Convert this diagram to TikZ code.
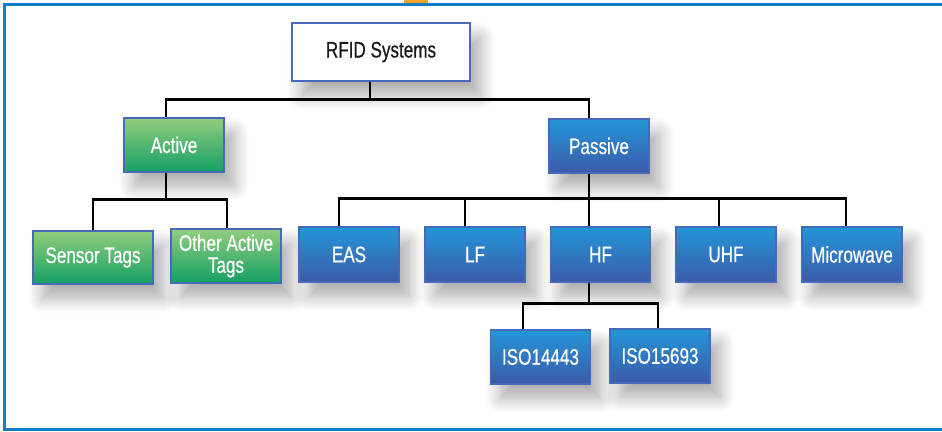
\documentclass[tikz,border=0pt]{standalone}
\usepackage{fontspec}
\setmainfont{Liberation Sans}[FakeStretch=0.76, FakeBold=0.6]
\usetikzlibrary{shadows.blur}

\definecolor{frameblue}{RGB}{20,125,195}
\definecolor{taborange}{RGB}{240,165,40}
\definecolor{boxedge}{RGB}{70,105,185}
\definecolor{greentop}{RGB}{145,205,125}
\definecolor{greenbot}{RGB}{20,160,100}
\definecolor{bluetop}{RGB}{35,150,215}
\definecolor{bluebot}{RGB}{60,90,170}
\definecolor{shadowgray}{RGB}{120,120,160}

\tikzset{
  box/.style={draw=boxedge, line width=1.4pt, minimum width=100pt, minimum height=54pt,
    inner sep=2pt, align=center, text=white, font=\fontsize{22.5}{22}\selectfont,
    blur shadow={shadow xshift=10pt, shadow yshift=-14pt, shadow blur radius=15pt,
      shadow blur steps=12, shadow opacity=34, fill=shadowgray}},
  greenbox/.style={box, top color=greentop, bottom color=greenbot},
  bluebox/.style={box, top color=bluetop, bottom color=bluebot},
  rootbox/.style={box, fill=white, text=black!90, minimum width=178pt, minimum height=58pt},
  link/.style={draw=black, line width=2.6pt, line join=miter}
}

\begin{document}
\begin{tikzpicture}[x=1pt, y=-1pt]
  \useasboundingbox (0,0) rectangle (942,431);

  % outer frame, open on the right, with the small tab on top
  \fill[taborange] (404,0) rectangle (428,4);
  \draw[frameblue, line width=2.5pt] (942,4.5) -- (4.5,4.5) -- (4.5,429.5) -- (942,429.5);

  % hierarchy boxes
  \node[rootbox] (root) at (381,52) {RFID Systems};

  \node[greenbox] (active) at (174,145) {Active};
  \node[bluebox] (passive) at (599,146) {Passive};

  \node[greenbox, minimum width=120pt, minimum height=53pt] (sensor) at (93,257.5) {Sensor Tags};
  \node[greenbox, minimum width=110pt] (other) at (226,256) {Other Active\\Tags};

  \node[bluebox, minimum height=55pt] (eas) at (349,254.5) {EAS};
  \node[bluebox, minimum height=55pt] (lf) at (475,254.5) {LF};
  \node[bluebox, minimum height=55pt] (hf) at (600.5,254.5) {HF};
  \node[bluebox, minimum height=55pt] (uhf) at (726,254.5) {UHF};
  \node[bluebox, minimum height=55pt] (micro) at (852,254.5) {Microwave};

  \node[bluebox] (iso1) at (540.5,357) {ISO14443};
  \node[bluebox] (iso2) at (660,356) {ISO15693};

  % connectors
  \draw[link] ([xshift=-11pt]root.south) -- ++(0,18) -| ([xshift=-8pt]active.north);
  \draw[link] ([xshift=-11pt]root.south) -- ++(0,18) -| ([xshift=-10pt]passive.north);

  \draw[link] ([xshift=-8pt]active.south) -- ++(0,27) -| (sensor.north);
  \draw[link] ([xshift=-8pt]active.south) -- ++(0,27) -| ([xshift=1pt]other.north);

  \draw[link] ([xshift=-10pt]passive.south) -- ++(0,25) -| ([xshift=-10pt]eas.north);
  \draw[link] ([xshift=-10pt]passive.south) -- ++(0,25) -| ([xshift=-10pt]lf.north);
  \draw[link] ([xshift=-10pt]passive.south) -- ++(0,25) -| ([xshift=-11.5pt]hf.north);
  \draw[link] ([xshift=-10pt]passive.south) -- ++(0,25) -| ([xshift=-7pt]uhf.north);
  \draw[link] ([xshift=-10pt]passive.south) -- ++(0,25) -| ([xshift=-6pt]micro.north);

  \draw[link] ([xshift=-11.5pt]hf.south) -- ++(0,21) -| ([xshift=-17.5pt]iso1.north);
  \draw[link] ([xshift=-11.5pt]hf.south) -- ++(0,21) -| ([xshift=-2pt]iso2.north);
\end{tikzpicture}
\end{document}
